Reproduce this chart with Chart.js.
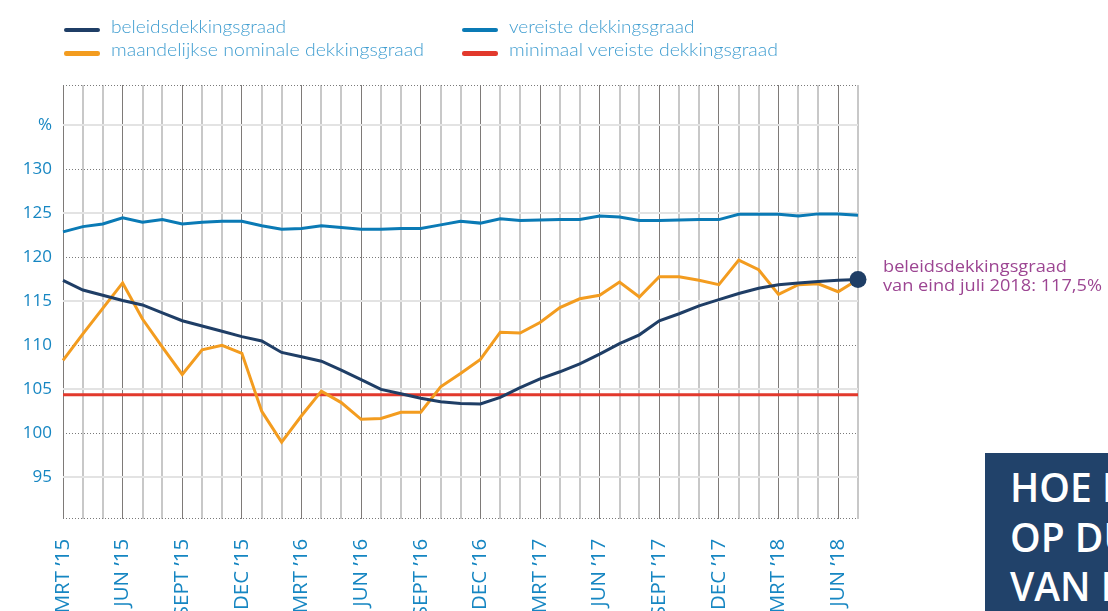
<!DOCTYPE html>
<html>
<head>
<meta charset="utf-8">
<script src="https://cdn.jsdelivr.net/npm/chart.js@4.4.1/dist/chart.umd.min.js"></script>
<style>
  html, body { margin: 0; padding: 0; background: #fff; }
  body { width: 1108px; height: 611px; position: relative; overflow: hidden; }
  #c { position: absolute; left: 0; top: 0; }
  .mk { position: absolute; width: 36px; height: 4.5px; border-radius: 2.25px; }
  .tx { position: absolute; white-space: nowrap; font-family: Lato, "Open Sans", sans-serif; font-weight: 300; font-size: 18px; color: #3f9dd0; transform-origin: 0 50%; line-height: 20px; }
  .ann { position: absolute; left: 883px; white-space: nowrap; font-family: "Open Sans", sans-serif; font-size: 16px; color: #9c4592; transform-origin: 0 50%; line-height: 19px; }
  #box { position: absolute; left: 985px; top: 453px; width: 123px; height: 158px; background: #21426a; overflow: hidden; }
  #box div { position: absolute; left: 25px; white-space: nowrap; font-family: "Open Sans", sans-serif; font-weight: 600; font-size: 39px; line-height: 50px; color: #fff; }
</style>
</head>
<body>
<canvas id="c" width="1108" height="611"></canvas>

<div class="mk" style="left:64px; top:27.5px; background:#1f3e66;"></div>
<div class="tx" style="left:111px; top:16px;" data-w="175">beleidsdekkingsgraad</div>
<div class="mk" style="left:64px; top:51px; background:#f39c1f;"></div>
<div class="tx" style="left:111px; top:39.3px;" data-w="313">maandelijkse nominale dekkingsgraad</div>
<div class="mk" style="left:462px; top:27.5px; background:#0a7ab5;"></div>
<div class="tx" style="left:508.5px; top:16px;" data-w="185.5">vereiste dekkingsgraad</div>
<div class="mk" style="left:462px; top:51px; background:#e2392c;"></div>
<div class="tx" style="left:508.5px; top:39.3px;" data-w="269">minimaal vereiste dekkingsgraad</div>

<div class="ann" style="top:257px;" data-w="184">beleidsdekkingsgraad</div>
<div class="ann" style="top:276px;" data-w="219">van eind juli 2018: 117,5%</div>

<div id="box">
  <div style="top:9px;">HOE IS</div>
  <div style="top:59px;">OP DUUR</div>
  <div style="top:108px;">VAN DE</div>
</div>

<script>
// ---- data ----
const months = [
  "MRT ’15","APR ’15","MEI ’15","JUN ’15","JUL ’15","AUG ’15","SEPT ’15","OKT ’15","NOV ’15","DEC ’15",
  "JAN ’16","FEB ’16","MRT ’16","APR ’16","MEI ’16","JUN ’16","JUL ’16","AUG ’16","SEPT ’16","OKT ’16","NOV ’16","DEC ’16",
  "JAN ’17","FEB ’17","MRT ’17","APR ’17","MEI ’17","JUN ’17","JUL ’17","AUG ’17","SEPT ’17","OKT ’17","NOV ’17","DEC ’17",
  "JAN ’18","FEB ’18","MRT ’18","APR ’18","MEI ’18","JUN ’18","JUL ’18"
];
const beleidsdekkingsgraad = [
  117.4, 116.3, 115.7, 115.1, 114.6, 113.7, 112.8, 112.2, 111.6, 111.0,
  110.5, 109.2, 108.7, 108.2, 107.2, 106.1, 105.0, 104.5, 104.0, 103.6, 103.4,
  103.35, 104.1, 105.2, 106.2, 107.0, 107.9, 109.0, 110.2, 111.2, 112.8,
  113.6, 114.5, 115.2, 115.9, 116.5, 116.9, 117.1, 117.25, 117.4, 117.5
];
const maandelijkseNominale = [
  108.3, 111.3, 114.2, 117.1, 113.0, 109.8, 106.7, 109.5, 110.0, 109.1,
  102.5, 99.0, 102.0, 104.8, 103.5, 101.6, 101.7, 102.4, 102.4, 105.3, 106.8,
  108.4, 111.5, 111.4, 112.6, 114.3, 115.3, 115.7, 117.2, 115.5, 117.8,
  117.8, 117.4, 116.9, 119.7, 118.6, 115.8, 116.9, 117.0, 116.1, 117.5
];
const vereiste = [
  122.9, 123.5, 123.8, 124.5, 124.0, 124.3, 123.8, 124.0, 124.1, 124.1,
  123.6, 123.2, 123.3, 123.6, 123.4, 123.2, 123.2, 123.3, 123.3, 123.7, 124.1,
  123.9, 124.4, 124.2, 124.25, 124.3, 124.3, 124.7, 124.6, 124.2, 124.2,
  124.25, 124.3, 124.3, 124.9, 124.9, 124.9, 124.7, 124.95, 124.95, 124.8
];
const minimaalVereiste = [
  104.4, 104.4, 104.4, 104.4, 104.4, 104.4, 104.4, 104.4, 104.4, 104.4,
  104.4, 104.4, 104.4, 104.4, 104.4, 104.4, 104.4, 104.4, 104.4, 104.4, 104.4,
  104.4, 104.4, 104.4, 104.4, 104.4, 104.4, 104.4, 104.4, 104.4, 104.4,
  104.4, 104.4, 104.4, 104.4, 104.4, 104.4, 104.4, 104.4, 104.4, 104.4
];
const yTickValues = [90.3, 95, 100, 105, 110, 115, 120, 125, 130, 135, 139.6];
const yTickLabels = ["", "95", "100", "105", "110", "115", "120", "125", "130", "%", ""];

// ---- styling helpers ----
const NAVY = '#1f3e66', BLUE = '#0a7ab5', ORANGE = '#f39c1f', RED = '#e2392c';
const TICK_COLOR = '#1686c2';
const isDottedY = v => (v === 90.3 || v === 139.6 || Math.round(v) % 10 === 0);

const lastIdx = beleidsdekkingsgraad.length - 1;

new Chart(document.getElementById('c'), {
  type: 'line',
  data: {
    labels: months,
    datasets: [
      { label: 'beleidsdekkingsgraad', data: beleidsdekkingsgraad, borderColor: NAVY, backgroundColor: NAVY,
        borderWidth: 3, tension: 0, order: 0, clip: false,
        pointRadius: c => c.dataIndex === lastIdx ? 8.5 : 0, pointBackgroundColor: NAVY, pointBorderWidth: 0 },
      { label: 'maandelijkse nominale dekkingsgraad', data: maandelijkseNominale, borderColor: ORANGE,
        borderWidth: 3, tension: 0, pointRadius: 0, order: 1 },
      { label: 'vereiste dekkingsgraad', data: vereiste, borderColor: BLUE,
        borderWidth: 3, tension: 0, pointRadius: 0, order: 2 },
      { label: 'minimaal vereiste dekkingsgraad', data: minimaalVereiste, borderColor: RED,
        borderWidth: 3, tension: 0, pointRadius: 0, order: 3 }
    ]
  },
  options: {
    responsive: false,
    animation: false,
    layout: { padding: { top: 85, right: 250, left: 0, bottom: 0 } },
    plugins: { legend: { display: false }, tooltip: { enabled: false } },
    scales: {
      x: {
        grid: {
          color: c => (c.index % 3 === 0 ? '#7e7a78' : '#c8c8c8'),
          lineWidth: c => (c.index % 3 === 0 ? 1 : 2),
          drawTicks: false
        },
        border: { display: false },
        ticks: {
          autoSkip: false, maxRotation: 90, minRotation: 90, padding: 20,
          color: TICK_COLOR, font: { family: 'Open Sans', size: 20.5 },
          callback: (v, i) => (i % 3 === 0 ? months[i] : '')
        },
        afterFit: s => { s.height = 92.3; }
      },
      y: {
        min: 90.3, max: 139.6,
        afterBuildTicks: s => { s.ticks = yTickValues.map(v => ({ value: v })); },
        ticks: {
          padding: 11, color: TICK_COLOR, font: { family: 'Open Sans', size: 17 },
          callback: (v, i) => yTickLabels[i]
        },
        grid: {
          color: c => (c.tick && isDottedY(c.tick.value) ? '#7a7a7a' : '#e3e3e3'),
          lineWidth: c => (c.tick && isDottedY(c.tick.value) ? 1 : 2),
          drawTicks: false
        },
        border: {
          display: false,
          dash: c => (c.tick && isDottedY(c.tick.value) ? [1, 2] : [])
        },
        afterFit: s => { s.width = 63; }
      }
    }
  }
});

// fit HTML text widths to the reference
function fit() {
  document.querySelectorAll('[data-w]').forEach(el => {
    el.style.transform = 'none';
    const w = el.getBoundingClientRect().width;
    const t = parseFloat(el.dataset.w);
    if (w > 0) el.style.transform = 'scaleX(' + (t / w) + ')';
  });
}
fit();
if (document.fonts && document.fonts.ready) document.fonts.ready.then(fit);
</script>
</body>
</html>
